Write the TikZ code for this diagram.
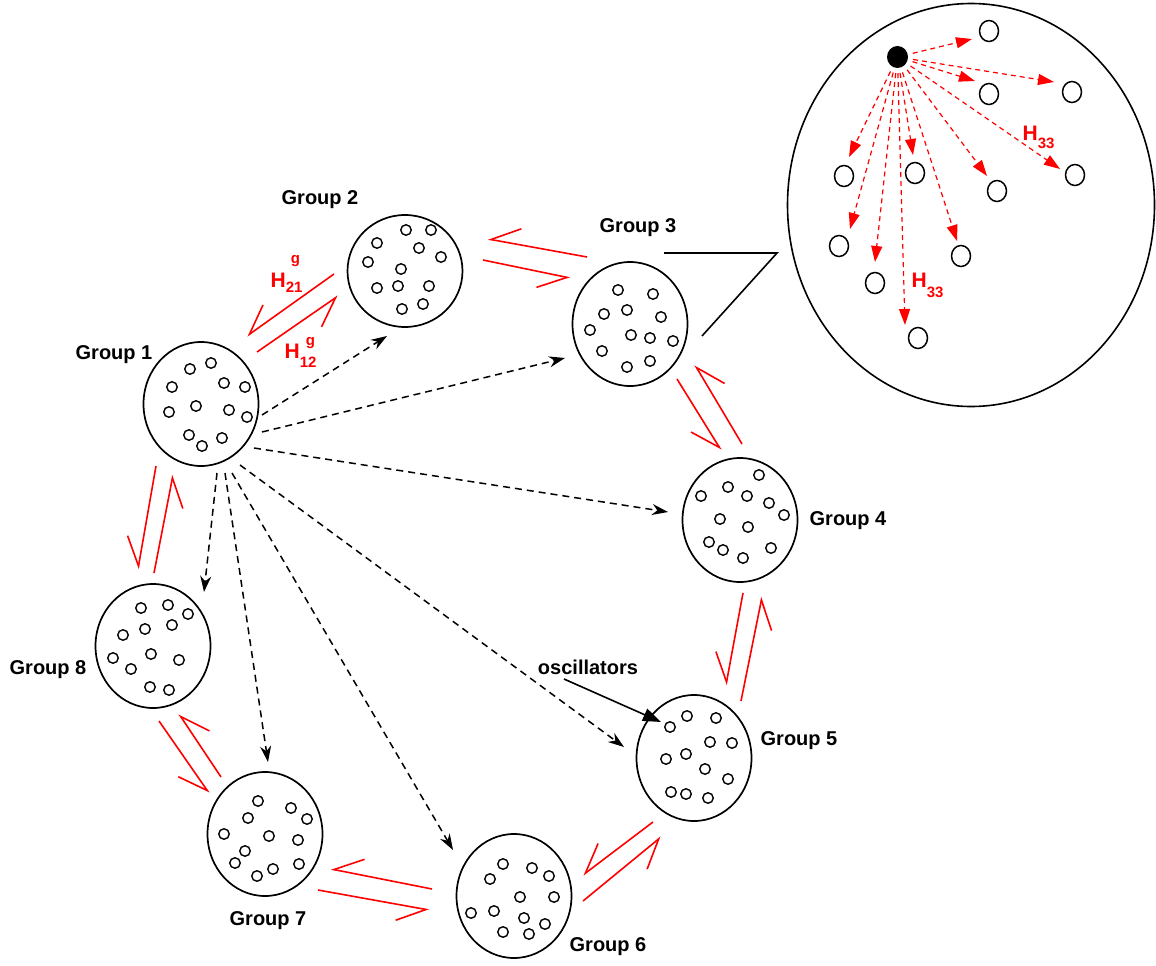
\documentclass[tikz,border=0pt]{standalone}
\usepackage{fontspec}
\setmainfont{Liberation Sans}
\usetikzlibrary{arrows.meta,calc,shapes.geometric}
\begin{document}
\begin{tikzpicture}[x=1pt,y=-1pt,
  grp/.style={draw,ellipse,line width=1.7pt,minimum width=115pt,minimum height=124pt,inner sep=0pt},
  osc/.style={draw,circle,line width=1.4pt,minimum size=10.5pt,inner sep=0pt},
  bigosc/.style={draw,ellipse,line width=1.5pt,minimum width=19pt,minimum height=21pt,inner sep=0pt},
  lbl/.style={font=\fontsize{20}{24}\selectfont\bfseries,inner sep=0pt},
  hlbl/.style={text=red,font=\fontsize{21}{24}\selectfont\bfseries,inner sep=0pt,anchor=base west},
  harp/.style={draw=red,line width=1.6pt,-{Straight Barb[right,length=28pt,width=32pt]}},
  dasharrow/.style={draw,line width=1.5pt,dash pattern=on 7pt off 5pt,-{Stealth[length=16pt,width=11pt]}},
  reddash/.style={draw=red,line width=1.2pt,dash pattern=on 5pt off 4pt,-{Triangle[length=16pt,width=11pt]}},
]
\useasboundingbox (0,0) rectangle (1156,966);

% groups
\node[grp] (g1) at (201,404) {};
\node[grp,minimum height=112pt] (g2) at (405,271) {};
\node[grp] (g3) at (630,324) {};
\node[grp] (g4) at (740,520) {};
\node[grp,minimum height=126pt] (g5) at (694,758) {};
\node[grp] (g6) at (514,896) {};
\node[grp] (g7) at (265,834) {};
\node[grp] (g8) at (153,646) {};

% oscillators inside groups
\foreach \x/\y [count=\i] in {190/369,211/363,172/387,224/383,245/387,169/412,196/406,229/410,247/417,189/435,202/446,222/438}
  \node[osc] (ga\i) at (\x,\y) {};
\foreach \x/\y [count=\i] in {406/230,431/230,377/243,419/248,441/257,368/262,401/269,377/288,398/286,429/286,423/304,402/309}
  \node[osc] (gb\i) at (\x,\y) {};
\foreach \x/\y [count=\i] in {618/290,653/294,604/314,627/310,661/317,590/330,631/335,650/338,673/341,602/351,650/361,627/367}
  \node[osc] (gc\i) at (\x,\y) {};
\foreach \x/\y [count=\i] in {759/475,728/487,701/496,747/496,769/503,784/515,720/519,748/527,709/542,723/550,743/558,771/548}
  \node[osc] (gd\i) at (\x,\y) {};
\foreach \x/\y [count=\i] in {687/716,716/718,670/727,710/742,732/743,686/754,666/759,705/769,728/779,671/792,686/794,708/798}
  \node[osc] (ge\i) at (\x,\y) {};
\foreach \x/\y [count=\i] in {503/864,532/868,549/876,490/879,520/897,554/897,471/913,494/911,524/918,545/924,503/932,529/934}
  \node[osc] (gf\i) at (\x,\y) {};
\foreach \x/\y [count=\i] in {258/801,291/808,248/818,307/819,224/834,269/836,298/840,245/851,235/863,299/864,273/869,257/876}
  \node[osc] (gg\i) at (\x,\y) {};
\foreach \x/\y [count=\i] in {141/608,168/605,188/614,145/629,172/625,123/635,113/658,151/654,179/660,131/669,150/687,169/690}
  \node[osc] (gh\i) at (\x,\y) {};

% labels
\node[lbl] (l1) at (114,355) {Group 1};
\node[lbl] (l2) at (320,200) {Group 2};
\node[lbl] (l3) at (638,228) {Group 3};
\node[lbl] (l4) at (848,521) {Group 4};
\node[lbl] (l5) at (799,741) {Group 5};
\node[lbl] (l6) at (608,947) {Group 6};
\node[lbl] (l7) at (268,921) {Group 7};
\node[lbl] (l8) at (48,670) {Group 8};
\node[lbl] (osc) at (588,667) {oscillators};

\node[hlbl] (h21) at (270.5,287) {H\rlap{\hspace{5pt}\raisebox{24pt}{\fontsize{15}{15}\selectfont g}}\raisebox{-5pt}{\fontsize{15}{15}\selectfont 21}};
\node[hlbl] (h12) at (284.5,358) {H\rlap{\hspace{6pt}\raisebox{13pt}{\fontsize{15}{15}\selectfont g}}\raisebox{-9pt}{\fontsize{15}{15}\selectfont 12}};

% red coupling harpoons
\draw[harp] ($(g2)+(-71,3)$) -- ($(g1)+(46,-68)$);
\draw[harp] ($(g1)+(56,-52)$) -- ($(g2)+(-67,25)$);
\draw[harp] ($(g3)+(-43,-67)$) -- ($(g2)+(83,-32)$);
\draw[harp] ($(g2)+(78,-11)$) -- ($(g3)+(-60,-46)$);
\draw[harp] ($(g3)+(47,55)$) -- ($(g4)+(-19,-70)$);
\draw[harp] ($(g4)+(2,-76)$) -- ($(g3)+(65,41)$);
\draw[harp] ($(g4)+(3,73)$) -- ($(g5)+(32,-73)$);
\draw[harp] ($(g5)+(47,-57)$) -- ($(g4)+(22,77)$);
\draw[harp] ($(g5)+(-41,64)$) -- ($(g6)+(69,-21)$);
\draw[harp] ($(g6)+(69,5)$) -- ($(g5)+(-33,79)$);
\draw[harp] ($(g6)+(-82,-7)$) -- ($(g7)+(66,35)$);
\draw[harp] ($(g7)+(53,56)$) -- ($(g6)+(-85,14)$);
\draw[harp] ($(g8)+(6,75)$) -- ($(g7)+(-56,-41)$);
\draw[harp] ($(g7)+(-44,-57)$) -- ($(g8)+(26,68)$);
\draw[harp] ($(g1)+(-45,62)$) -- ($(g8)+(-15,-77)$);
\draw[harp] ($(g8)+(1,-73)$) -- ($(g1)+(-28,71)$);

% dashed arrows from group 1
\draw[dasharrow] ($(g1)+(61,11)$) -- ($(g2)+(-18,65)$);
\draw[dasharrow] ($(g1)+(61,28)$) -- ($(g3)+(-65,34)$);
\draw[dasharrow] ($(g1)+(53,44)$) -- ($(g4)+(-72,-8)$);
\draw[dasharrow] ($(g1)+(39,61)$) -- ($(g5)+(-70,-11)$);
\draw[dasharrow] ($(g1)+(31,69)$) -- ($(g6)+(-61,-46)$);
\draw[dasharrow] ($(g1)+(24,69)$) -- ($(g7)+(3,-72)$);
\draw[dasharrow] ($(g1)+(16,69)$) -- ($(g8)+(51,-54)$);

% oscillators pointer
\draw[line width=1.6pt,-{Triangle[length=18pt,width=13pt]}] ($(osc)+(-24,12)$) -- ($(g5)+(-33,-36)$);

% magnified view
\node[draw,ellipse,line width=1.6pt,minimum width=367pt,minimum height=403pt,inner sep=0pt] (big) at (971,205) {};
\draw[line width=1.6pt] ($(g3)+(34,-71)$) -- ($(big)+(-194,48)$) -- ($(g3)+(72,12)$);
\node[fill,ellipse,minimum width=21pt,minimum height=22pt,inner sep=0pt] (dot) at (897.5,57) {};
\foreach \x/\y [count=\i] in {989/31,989/94,1072/92,844/176,915/173,997/191,1075/175,839/246,961/256,875/283,918/338}
  \node[bigosc] (c\i) at (\x,\y) {};

\draw[reddash,shorten <=5pt] (dot) -- ($(c1)+(-17,8)$);
\draw[reddash,shorten <=5pt] (dot) -- ($(c2)+(-14,-13)$);
\draw[reddash,shorten <=5pt] (dot) -- ($(c3)+(-18,-10)$);
\draw[reddash,shorten <=5pt] (dot) -- ($(c4)+(5,-19)$);
\draw[reddash,shorten <=5pt] (dot) -- ($(c5)+(-2,-18)$);
\draw[reddash,shorten <=5pt] (dot) -- ($(c6)+(-10,-15)$);
\draw[reddash,shorten <=5pt] (dot) -- ($(c7)+(-15,-6)$);
\draw[reddash,shorten <=5pt] (dot) -- ($(c8)+(11,-17)$);
\draw[reddash,shorten <=5pt] (dot) -- ($(c9)+(-4,-15)$);
\draw[reddash,shorten <=5pt] (dot) -- ($(c10)+(0,-21)$);
\draw[reddash,shorten <=5pt] (dot) -- ($(c11)+(-13,-13)$);

\node[hlbl] (h33a) at (1022.5,140) {H\raisebox{-8pt}{\fontsize{15}{15}\selectfont 33}};
\node[hlbl] (h33b) at (911.5,287) {H\raisebox{-10pt}{\fontsize{15}{15}\selectfont 33}};
\end{tikzpicture}
\end{document}
